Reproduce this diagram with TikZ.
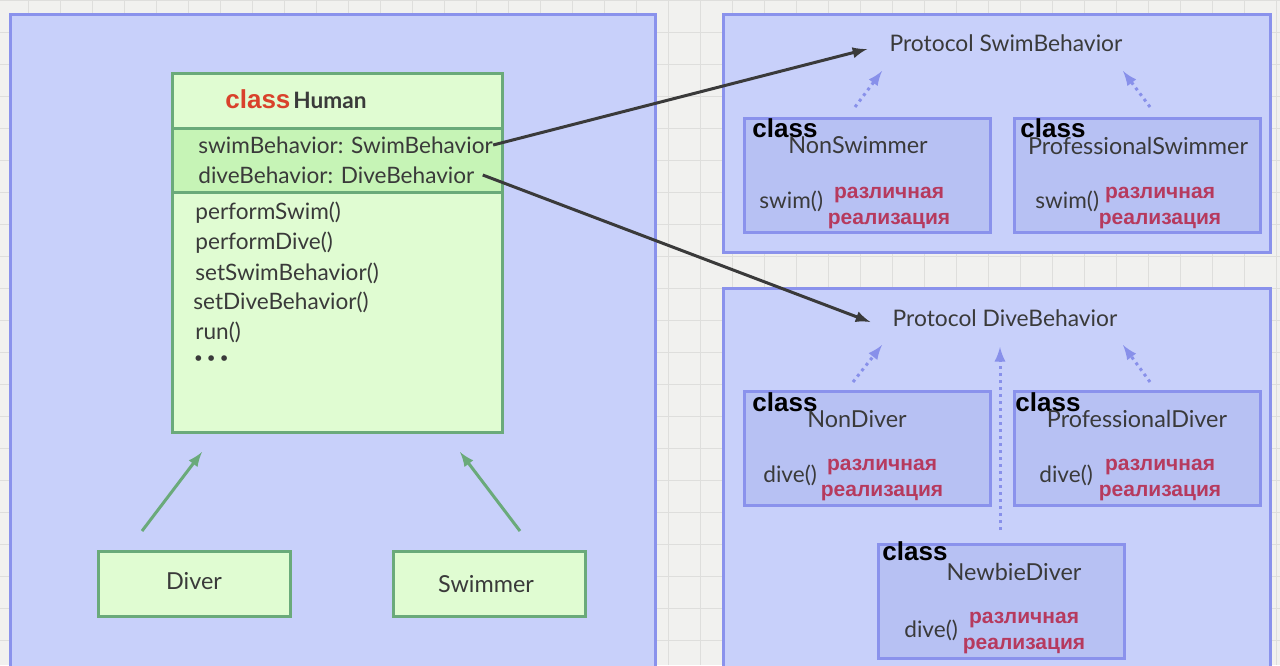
\documentclass[tikz,border=0pt]{standalone}
\usepackage{fontspec}
\setmainfont{Lato}
\newfontfamily\arialb{Liberation Sans}[BoldFont={Liberation Sans Bold}]
\definecolor{pagebg}{HTML}{F1F1EF}
\definecolor{gridline}{HTML}{DEDEDC}
\definecolor{panelfill}{HTML}{C8D0FA}
\definecolor{panelline}{HTML}{8A92EC}
\definecolor{implfill}{HTML}{B7C1F3}
\definecolor{umlfill}{HTML}{E0FCD2}
\definecolor{attrfill}{HTML}{C6F4B6}
\definecolor{umlline}{HTML}{6AAA7A}
\definecolor{txt}{HTML}{3A3A3A}
\definecolor{kwred}{HTML}{D9412B}
\definecolor{rusred}{HTML}{B63A5E}
\definecolor{dotblue}{HTML}{8890EA}
\begin{document}
\begin{tikzpicture}[
    x=0.5pt, y=-0.5pt,
    panel/.style={draw=panelline, line width=1.5pt, fill=panelfill},
    impl/.style={draw=panelline, line width=1.5pt, fill=implfill, minimum width=123pt, minimum height=57pt, inner sep=0pt},
    umlbox/.style={draw=umlline, line width=1.5pt, fill=umlfill, inner sep=0pt},
    kw/.style={font=\arialb\bfseries\fontsize{13}{13}\selectfont, inner sep=0pt, anchor=base west},
    classname/.style={font=\fontsize{11.7}{13}\selectfont, text=txt, inner sep=0pt},
    protoname/.style={font=\fontsize{11.4}{13}\selectfont, text=txt, inner sep=0pt},
    member/.style={font=\fontsize{11.3}{13}\selectfont, text=txt, inner sep=0pt, anchor=west},
    rus/.style={font=\arialb\bfseries\fontsize{10.5}{12.8}\selectfont, text=rusred, align=center, inner sep=0pt},
    uses/.style={->, draw=txt, line width=1.5pt},
    inherit/.style={->, draw=umlline, line width=1.5pt},
    realize/.style={->, draw=dotblue, line width=1.5pt, dotted},
    >=latex
]
    \useasboundingbox (0,0) rectangle (1280,665);
    \clip (0,0) rectangle (1280,665);

    % Background
    \fill[pagebg] (0,0) rectangle (1280,665);
    \draw[gridline, line width=0.5pt, step=16pt, shift={(28,0)}] (-28,0) grid (1252,665);

    % Panels
    \draw[panel] (10,14) rectangle (655,690);
    \draw[panel] (723,14) rectangle (1270,252);
    \draw[panel] (723,288) rectangle (1270,690);

    % class Human
    \node[umlbox, minimum width=165pt, minimum height=179.5pt] (human) at (337,252.5) {};
    \fill[attrfill] (173,128) rectangle (501,192);
    \draw[umlline, line width=1.5pt] (172,128) -- (502,128) (172,192) -- (502,192);
    \draw[umlline, line width=1.5pt] (172,73) rectangle (502,432);
    \node[kw, text=kwred] (humankw) at (225,108) {class};
    \node[classname, anchor=base west, font=\bfseries\fontsize{11.3}{13}\selectfont] (humanname) at (293,108) {Human};
    \node[member] (swimattr) at (198,145) {swimBehavior: SwimBehavior};
    \node[member] (diveattr) at (198,175) {diveBehavior: DiveBehavior};
    \node[member] (m1) at (195,213) {performSwim()};
    \node[member] (m2) at (195,243) {performDive()};
    \node[member] (m3) at (195,273) {setSwimBehavior()};
    \node[member] (m4) at (193,302) {setDiveBehavior()};
    \node[member] (m5) at (195,332) {run()};
    \node[member, font=\bfseries\fontsize{15}{15}\selectfont] (m6) at (194,362) {·\hspace{2.3pt}·\hspace{2.3pt}·};

    % Subclasses of Human
    \node[umlbox, minimum width=96pt, minimum height=32.5pt] (diver) at (194,583.5) {};
    \node[classname] (divername) at (194,581) {Diver};
    \node[umlbox, minimum width=96pt, minimum height=32.5pt] (swimmer) at (489,583.5) {};
    \node[classname] (swimmername) at (486,584) {Swimmer};
    \coordinate (d0) at (142,531);
    \coordinate (d1) at (202,452);
    \coordinate (s0) at (520,531);
    \coordinate (s1) at (460,452);
    \draw[inherit] (d0) -- (d1);
    \draw[inherit] (s0) -- (s1);

    % Protocol SwimBehavior
    \node[protoname] (swimproto) at (1006,43) {Protocol SwimBehavior};
    \node[impl] (nonswimmer) at (867,175) {};
    \node[kw] at (752,137) {class};
    \node[classname] at (858,145) {NonSwimmer};
    \node[member] at (759,201) {swim()};
    \node[rus] at (889,208) {различная\\реализация};
    \node[impl] (proswimmer) at (1137,175) {};
    \node[kw] at (1020,137) {class};
    \node[classname] at (1138,146) {ProfessionalSwimmer};
    \node[member] at (1035,201) {swim()};
    \node[rus] at (1160,208) {различная\\реализация};
    \coordinate (ns0) at (855,107);
    \coordinate (ns1) at (882,71);
    \coordinate (ps0) at (1150,107);
    \coordinate (ps1) at (1123,71);
    \draw[realize] (ns0) -- (ns1);
    \draw[realize] (ps0) -- (ps1);

    % Protocol DiveBehavior
    \node[protoname] (diveproto) at (1005,318) {Protocol DiveBehavior};
    \node[impl] (nondiver) at (867,448.5) {};
    \node[kw] at (752,411) {class};
    \node[classname] at (857,419) {NonDiver};
    \node[member] at (763,475) {dive()};
    \node[rus] at (882,480) {различная\\реализация};
    \node[impl] (prodiver) at (1137,448.5) {};
    \node[kw] at (1015,411) {class};
    \node[classname] at (1137,419) {ProfessionalDiver};
    \node[member] at (1039,475) {dive()};
    \node[rus] at (1160,480) {различная\\реализация};
    \node[impl] (newbie) at (1001,601) {};
    \node[kw] at (882,560) {class};
    \node[classname] at (1014,572) {NewbieDiver};
    \node[member] at (904,630) {dive()};
    \node[rus] at (1024,633) {различная\\реализация};
    \coordinate (nd0) at (853,382);
    \coordinate (nd1) at (882,345);
    \coordinate (pd0) at (1150,382);
    \coordinate (pd1) at (1123,345);
    \coordinate (nb0) at (1000,530);
    \coordinate (nb1) at (1000,347);
    \draw[realize] (nd0) -- (nd1);
    \draw[realize] (pd0) -- (pd1);
    \draw[realize] (nb0) -- (nb1);

    % Composition
    \draw[uses] (swimattr.east) -- ([xshift=-11pt,yshift=-3pt]swimproto.west);
    \draw[uses] ([xshift=4pt]diveattr.east) -- ([xshift=-11pt,yshift=-2pt]diveproto.west);
\end{tikzpicture}
\end{document}
